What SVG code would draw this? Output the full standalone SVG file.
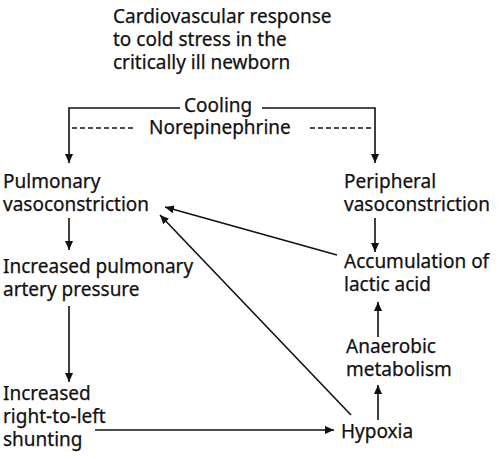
<svg xmlns="http://www.w3.org/2000/svg" width="500" height="459" viewBox="0 0 500 459">
<defs>
<style>
text{font-family:"Noto Sans","DejaVu Sans",sans-serif;font-size:19px;fill:#111;stroke:#111;stroke-width:0.25}
.ln{stroke:#111;stroke-width:1.6;fill:none}
.ds{stroke:#111;stroke-width:1.3;fill:none;stroke-dasharray:5 3}
</style>
<marker id="ah" viewBox="0 0 10 10" refX="10" refY="5" markerWidth="9" markerHeight="9" markerUnits="userSpaceOnUse" orient="auto">
<path d="M0,0.5 L10,5 L0,9.5 Z" fill="#111"/>
</marker>
</defs>
<rect width="500" height="459" fill="#fff"/>
<g id="title">
<text x="113" y="23">Cardiovascular response</text>
<text x="113" y="46">to cold stress in the</text>
<text x="113" y="69">critically ill newborn</text>
</g>
<g id="cooling"><text x="184" y="112">Cooling</text></g>
<g id="norepinephrine"><text x="149" y="134">Norepinephrine</text></g>
<g id="pulmonary"><text x="3" y="188">Pulmonary</text><text x="3" y="211">vasoconstriction</text></g>
<g id="peripheral"><text x="344" y="188">Peripheral</text><text x="344" y="211">vasoconstriction</text></g>
<g id="increased-pap"><text x="3" y="273">Increased pulmonary</text><text x="3" y="296">artery pressure</text></g>
<g id="shunting"><text x="3" y="400">Increased</text><text x="3" y="423">right-to-left</text><text x="3" y="446">shunting</text></g>
<g id="hypoxia"><text x="341" y="438">Hypoxia</text></g>
<g id="anaerobic"><text x="346" y="353">Anaerobic</text><text x="346" y="376">metabolism</text></g>
<g id="lactic"><text x="344" y="268">Accumulation of</text><text x="344" y="291">lactic acid</text></g>
<g id="connectors">
<path class="ln" d="M180,108 H69 V163" marker-end="url(#ah)"/>
<path class="ln" d="M262,108 H375 V163" marker-end="url(#ah)"/>
<path class="ds" d="M72,128 H134"/>
<path class="ds" d="M310,128 H372"/>
<path class="ln" d="M69,218 V250" marker-end="url(#ah)"/>
<path class="ln" d="M375,218 V252" marker-end="url(#ah)"/>
<path class="ln" d="M69,306 V382" marker-end="url(#ah)"/>
<path class="ln" d="M95,430 H334" marker-end="url(#ah)"/>
<path class="ln" d="M378,420 V385" marker-end="url(#ah)"/>
<path class="ln" d="M378,337 V302" marker-end="url(#ah)"/>
<path class="ln" d="M337,255 L165,207" marker-end="url(#ah)"/>
<path class="ln" d="M351,415 L160,215" marker-end="url(#ah)"/>
</g>
</svg>
